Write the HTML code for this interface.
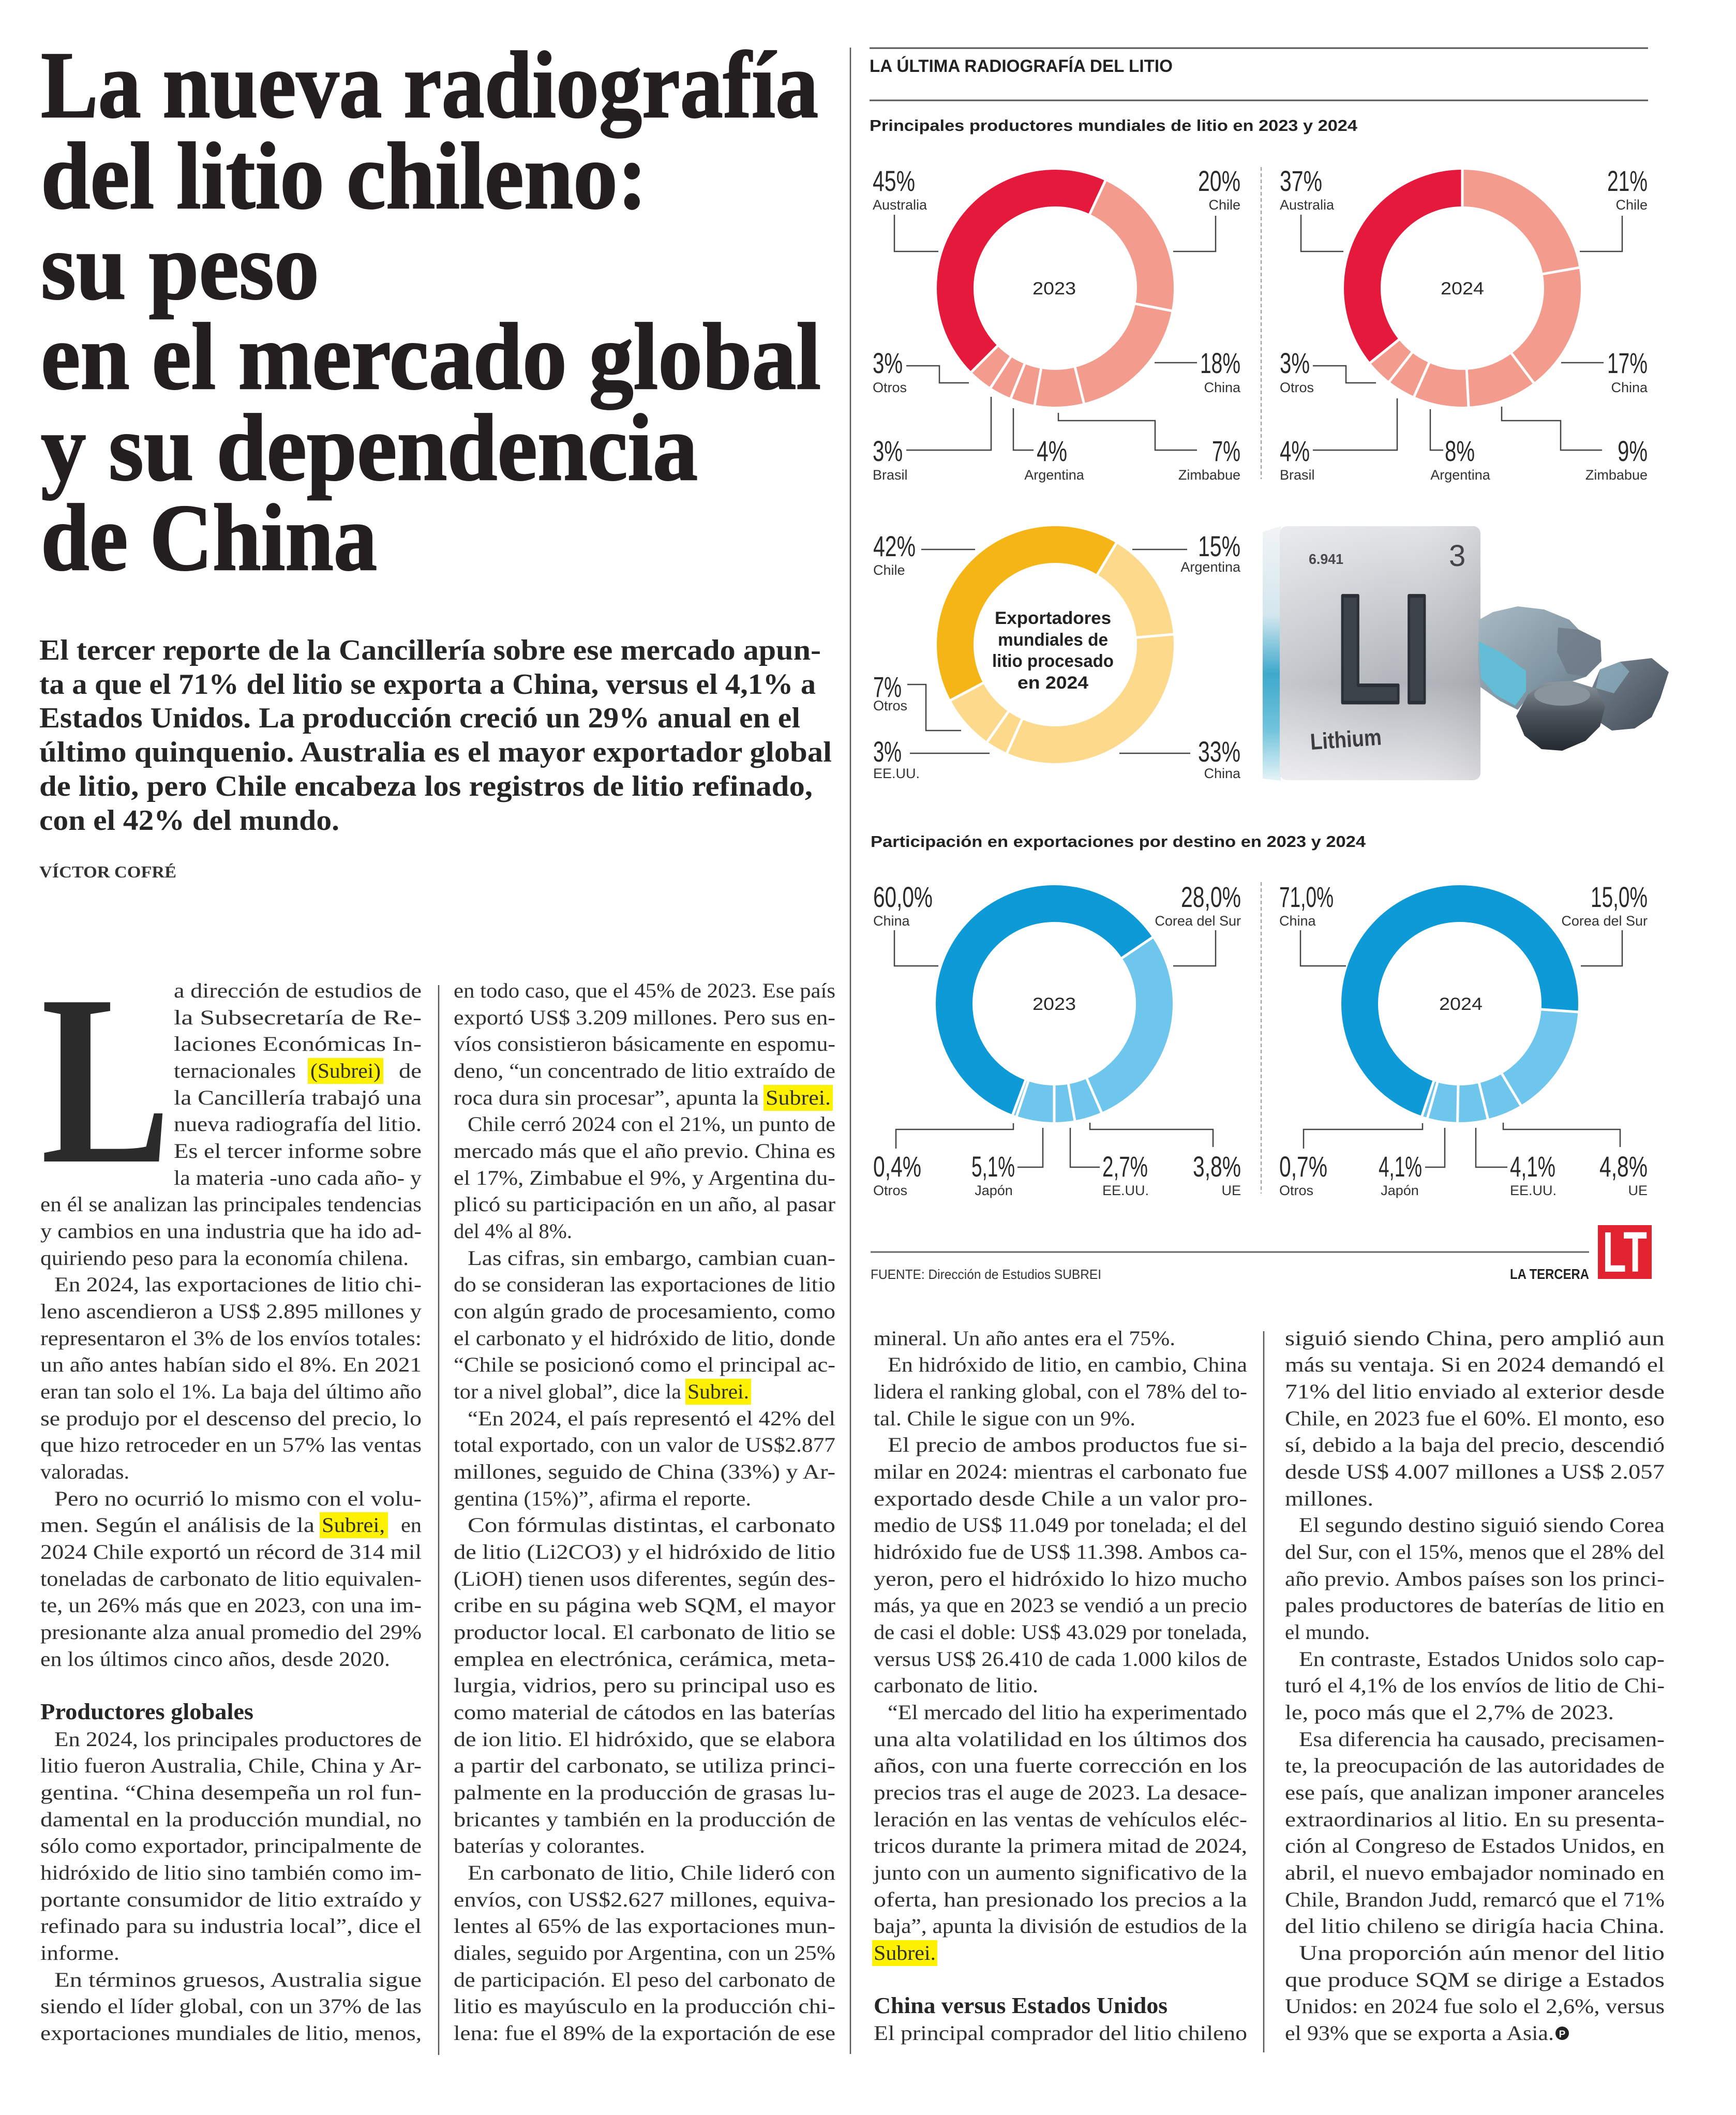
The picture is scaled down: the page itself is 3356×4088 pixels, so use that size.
<!DOCTYPE html>
<html lang="es">
<head>
<meta charset="utf-8">
<title>La nueva radiografía del litio chileno</title>
<style>
html,body{margin:0;padding:0;background:#fff;}
body{width:3356px;height:4088px;overflow:hidden;}
svg{display:block;}
.hl{font-family:"Liberation Serif",serif;font-weight:bold;font-size:184px;fill:#231f20;stroke:#231f20;stroke-width:2.5;}
.dk{font-family:"Liberation Serif",serif;font-weight:bold;font-size:56px;fill:#262626;}
.by{font-family:"Liberation Serif",serif;font-weight:bold;font-size:32px;fill:#333;}
.b{font-family:"Liberation Serif",serif;font-size:40px;fill:#303030;}
.bh{font-family:"Liberation Serif",serif;font-weight:bold;font-size:44px;fill:#262626;}
.t1{font-family:"Liberation Sans",sans-serif;font-weight:bold;font-size:34px;fill:#222;}
.t2{font-family:"Liberation Sans",sans-serif;font-weight:bold;font-size:31px;fill:#222;}
.p{font-family:"Liberation Sans",sans-serif;font-size:56px;fill:#2a2a2a;}
.n{font-family:"Liberation Sans",sans-serif;font-size:27px;fill:#333;}
.yr{font-family:"Liberation Sans",sans-serif;font-size:34px;fill:#2a2a2a;}
.ct{font-family:"Liberation Sans",sans-serif;font-weight:bold;font-size:34px;fill:#222;}
.src{font-family:"Liberation Sans",sans-serif;font-size:26px;fill:#333;}
.lead{fill:none;stroke:#444;stroke-width:2.5;}
.sep{stroke:#fff;stroke-width:5;}
</style>
</head>
<body>
<svg xmlns="http://www.w3.org/2000/svg" width="3356" height="4088" viewBox="0 0 3356 4088">
<defs>
<linearGradient id="face" x1="0" y1="0" x2="0" y2="1">
<stop offset="0" stop-color="#e3e4e7"/>
<stop offset="0.35" stop-color="#c6c9ce"/>
<stop offset="0.62" stop-color="#b2b6bc"/>
<stop offset="1" stop-color="#e8e8eb"/>
</linearGradient>
<linearGradient id="faceH" x1="0" y1="0" x2="1" y2="0">
<stop offset="0" stop-color="#ffffff" stop-opacity="0.25"/>
<stop offset="0.55" stop-color="#ffffff" stop-opacity="0"/>
<stop offset="1" stop-color="#000000" stop-opacity="0.07"/>
</linearGradient>
<linearGradient id="side" x1="0" y1="0" x2="0" y2="1">
<stop offset="0" stop-color="#f2f4f5"/>
<stop offset="0.35" stop-color="#d3e7ee"/>
<stop offset="0.58" stop-color="#3ea9cc"/>
<stop offset="0.8" stop-color="#72c4dc"/>
<stop offset="1" stop-color="#e6f3f7"/>
</linearGradient>
<linearGradient id="rock1" x1="0" y1="0" x2="1" y2="1">
<stop offset="0" stop-color="#a9bac4"/>
<stop offset="0.6" stop-color="#8196a3"/>
<stop offset="1" stop-color="#5d6c78"/>
</linearGradient>
<linearGradient id="rock2" x1="0" y1="0" x2="1" y2="1">
<stop offset="0" stop-color="#7d8a96"/>
<stop offset="1" stop-color="#3e4852"/>
</linearGradient>
<linearGradient id="rock3" x1="0" y1="0" x2="0" y2="1">
<stop offset="0" stop-color="#8e98a1"/>
<stop offset="0.45" stop-color="#4d555e"/>
<stop offset="1" stop-color="#24292f"/>
</linearGradient>
</defs>

<rect x="0" y="0" width="3356" height="4088" fill="#fff"/>

<!-- ===== HEADLINE ===== -->
<text class="hl" x="79" y="226" textLength="1503" lengthAdjust="spacingAndGlyphs">La nueva radiografía</text>
<text class="hl" x="79" y="402" textLength="1172" lengthAdjust="spacingAndGlyphs">del litio chileno:</text>
<text class="hl" x="79" y="577" textLength="538" lengthAdjust="spacingAndGlyphs">su peso</text>
<text class="hl" x="79" y="751" textLength="1508" lengthAdjust="spacingAndGlyphs">en el mercado global</text>
<text class="hl" x="79" y="927" textLength="1270" lengthAdjust="spacingAndGlyphs">y su dependencia</text>
<text class="hl" x="79" y="1101" textLength="650" lengthAdjust="spacingAndGlyphs">de China</text>

<!-- ===== DECK ===== -->
<text class="dk" x="76" y="1275" textLength="1511" lengthAdjust="spacingAndGlyphs">El tercer reporte de la Cancillería sobre ese mercado apun-</text>
<text class="dk" x="76" y="1341" textLength="1501" lengthAdjust="spacingAndGlyphs">ta a que el 71% del litio se exporta a China, versus el 4,1% a</text>
<text class="dk" x="76" y="1406" textLength="1471" lengthAdjust="spacingAndGlyphs">Estados Unidos. La producción creció un 29% anual en el</text>
<text class="dk" x="76" y="1472" textLength="1532" lengthAdjust="spacingAndGlyphs">último quinquenio. Australia es el mayor exportador global</text>
<text class="dk" x="76" y="1538" textLength="1495" lengthAdjust="spacingAndGlyphs">de litio, pero Chile encabeza los registros de litio refinado,</text>
<text class="dk" x="76" y="1604" textLength="580" lengthAdjust="spacingAndGlyphs">con el 42% del mundo.</text>

<text class="by" x="76" y="1696" textLength="265" lengthAdjust="spacingAndGlyphs">VÍCTOR COFRÉ</text>

<!-- ===== RULES ===== -->
<line x1="1644" y1="92" x2="1644" y2="3970" stroke="#555" stroke-width="2.5"/>
<line x1="848" y1="1904" x2="848" y2="3972" stroke="#555" stroke-width="2.5"/>
<line x1="2443" y1="2573" x2="2443" y2="3967" stroke="#555" stroke-width="2.5"/>

<!-- ===== HIGHLIGHTS ===== -->
<rect x="595" y="2045" width="146" height="50" fill="#fff200"/>
<rect x="618" y="2923" width="132" height="50" fill="#fff200"/>
<rect x="1476" y="2097" width="134" height="50" fill="#fff200"/>
<rect x="1325" y="2665" width="127" height="50" fill="#fff200"/>
<rect x="1686" y="3750" width="126" height="50" fill="#fff200"/>

<!-- ===== DROP CAP ===== -->
<text x="79" y="2245" font-family="Liberation Serif, serif" font-weight="bold" font-size="470" fill="#2b2b2b" textLength="251" lengthAdjust="spacingAndGlyphs">L</text>

<!-- ===== COLUMN 1 ===== -->
<text class="b" x="336" y="1928" textLength="479" lengthAdjust="spacingAndGlyphs">a dirección de estudios de</text>
<text class="b" x="336" y="1980" textLength="479" lengthAdjust="spacingAndGlyphs">la Subsecretaría de Re-</text>
<text class="b" x="336" y="2031" textLength="479" lengthAdjust="spacingAndGlyphs">laciones Económicas In-</text>
<text class="b" x="336" y="2083" textLength="236" lengthAdjust="spacingAndGlyphs">ternacionales</text>
<text class="b" x="600" y="2083" textLength="136" lengthAdjust="spacingAndGlyphs">(Subrei)</text>
<text class="b" x="771" y="2083" textLength="44" lengthAdjust="spacingAndGlyphs">de</text>
<text class="b" x="336" y="2135" textLength="479" lengthAdjust="spacingAndGlyphs">la Cancillería trabajó una</text>
<text class="b" x="336" y="2186" textLength="479" lengthAdjust="spacingAndGlyphs">nueva radiografía del litio.</text>
<text class="b" x="336" y="2238" textLength="479" lengthAdjust="spacingAndGlyphs">Es el tercer informe sobre</text>
<text class="b" x="336" y="2290" textLength="479" lengthAdjust="spacingAndGlyphs">la materia -uno cada año- y</text>
<text class="b" x="78" y="2341" textLength="737" lengthAdjust="spacingAndGlyphs">en él se analizan las principales tendencias</text>
<text class="b" x="78" y="2393" textLength="737" lengthAdjust="spacingAndGlyphs">y cambios en una industria que ha ido ad-</text>
<text class="b" x="78" y="2445" textLength="712" lengthAdjust="spacingAndGlyphs">quiriendo peso para la economía chilena.</text>
<text class="b" x="105" y="2496" textLength="710" lengthAdjust="spacingAndGlyphs">En 2024, las exportaciones de litio chi-</text>
<text class="b" x="78" y="2548" textLength="737" lengthAdjust="spacingAndGlyphs">leno ascendieron a US$ 2.895 millones y</text>
<text class="b" x="78" y="2600" textLength="737" lengthAdjust="spacingAndGlyphs">representaron el 3% de los envíos totales:</text>
<text class="b" x="78" y="2651" textLength="737" lengthAdjust="spacingAndGlyphs">un año antes habían sido el 8%. En 2021</text>
<text class="b" x="78" y="2703" textLength="737" lengthAdjust="spacingAndGlyphs">eran tan solo el 1%. La baja del último año</text>
<text class="b" x="78" y="2755" textLength="737" lengthAdjust="spacingAndGlyphs">se produjo por el descenso del precio, lo</text>
<text class="b" x="78" y="2806" textLength="737" lengthAdjust="spacingAndGlyphs">que hizo retroceder en un 57% las ventas</text>
<text class="b" x="78" y="2858" textLength="172" lengthAdjust="spacingAndGlyphs">valoradas.</text>
<text class="b" x="105" y="2910" textLength="710" lengthAdjust="spacingAndGlyphs">Pero no ocurrió lo mismo con el volu-</text>
<text class="b" x="78" y="2961" textLength="530" lengthAdjust="spacingAndGlyphs">men. Según el análisis de la</text>
<text class="b" x="622" y="2961" textLength="122" lengthAdjust="spacingAndGlyphs">Subrei,</text>
<text class="b" x="775" y="2961" textLength="40" lengthAdjust="spacingAndGlyphs">en</text>
<text class="b" x="78" y="3013" textLength="737" lengthAdjust="spacingAndGlyphs">2024 Chile exportó un récord de 314 mil</text>
<text class="b" x="78" y="3065" textLength="737" lengthAdjust="spacingAndGlyphs">toneladas de carbonato de litio equivalen-</text>
<text class="b" x="78" y="3116" textLength="737" lengthAdjust="spacingAndGlyphs">te, un 26% más que en 2023, con una im-</text>
<text class="b" x="78" y="3168" textLength="737" lengthAdjust="spacingAndGlyphs">presionante alza anual promedio del 29%</text>
<text class="b" x="78" y="3220" textLength="676" lengthAdjust="spacingAndGlyphs">en los últimos cinco años, desde 2020.</text>
<text class="bh" x="78" y="3323" textLength="412" lengthAdjust="spacingAndGlyphs">Productores globales</text>
<text class="b" x="105" y="3375" textLength="710" lengthAdjust="spacingAndGlyphs">En 2024, los principales productores de</text>
<text class="b" x="78" y="3426" textLength="737" lengthAdjust="spacingAndGlyphs">litio fueron Australia, Chile, China y Ar-</text>
<text class="b" x="78" y="3478" textLength="737" lengthAdjust="spacingAndGlyphs">gentina. “China desempeña un rol fun-</text>
<text class="b" x="78" y="3530" textLength="737" lengthAdjust="spacingAndGlyphs">damental en la producción mundial, no</text>
<text class="b" x="78" y="3581" textLength="737" lengthAdjust="spacingAndGlyphs">sólo como exportador, principalmente de</text>
<text class="b" x="78" y="3633" textLength="737" lengthAdjust="spacingAndGlyphs">hidróxido de litio sino también como im-</text>
<text class="b" x="78" y="3685" textLength="737" lengthAdjust="spacingAndGlyphs">portante consumidor de litio extraído y</text>
<text class="b" x="78" y="3736" textLength="737" lengthAdjust="spacingAndGlyphs">refinado para su industria local”, dice el</text>
<text class="b" x="78" y="3788" textLength="153" lengthAdjust="spacingAndGlyphs">informe.</text>
<text class="b" x="105" y="3840" textLength="710" lengthAdjust="spacingAndGlyphs">En términos gruesos, Australia sigue</text>
<text class="b" x="78" y="3891" textLength="737" lengthAdjust="spacingAndGlyphs">siendo el líder global, con un 37% de las</text>
<text class="b" x="78" y="3943" textLength="737" lengthAdjust="spacingAndGlyphs">exportaciones mundiales de litio, menos,</text>

<!-- ===== COLUMN 2 ===== -->
<text class="b" x="877" y="1928" textLength="738" lengthAdjust="spacingAndGlyphs">en todo caso, que el 45% de 2023. Ese país</text>
<text class="b" x="877" y="1980" textLength="738" lengthAdjust="spacingAndGlyphs">exportó US$ 3.209 millones. Pero sus en-</text>
<text class="b" x="877" y="2031" textLength="738" lengthAdjust="spacingAndGlyphs">víos consistieron básicamente en espomu-</text>
<text class="b" x="877" y="2083" textLength="738" lengthAdjust="spacingAndGlyphs">deno, “un concentrado de litio extraído de</text>
<text class="b" x="877" y="2135" textLength="590" lengthAdjust="spacingAndGlyphs">roca dura sin procesar”, apunta la</text>
<text class="b" x="1480" y="2135" textLength="126" lengthAdjust="spacingAndGlyphs">Subrei.</text>
<text class="b" x="904" y="2186" textLength="711" lengthAdjust="spacingAndGlyphs">Chile cerró 2024 con el 21%, un punto de</text>
<text class="b" x="877" y="2238" textLength="738" lengthAdjust="spacingAndGlyphs">mercado más que el año previo. China es</text>
<text class="b" x="877" y="2290" textLength="738" lengthAdjust="spacingAndGlyphs">el 17%, Zimbabue el 9%, y Argentina du-</text>
<text class="b" x="877" y="2341" textLength="738" lengthAdjust="spacingAndGlyphs">plicó su participación en un año, al pasar</text>
<text class="b" x="877" y="2393" textLength="229" lengthAdjust="spacingAndGlyphs">del 4% al 8%.</text>
<text class="b" x="904" y="2445" textLength="711" lengthAdjust="spacingAndGlyphs">Las cifras, sin embargo, cambian cuan-</text>
<text class="b" x="877" y="2496" textLength="738" lengthAdjust="spacingAndGlyphs">do se consideran las exportaciones de litio</text>
<text class="b" x="877" y="2548" textLength="738" lengthAdjust="spacingAndGlyphs">con algún grado de procesamiento, como</text>
<text class="b" x="877" y="2600" textLength="738" lengthAdjust="spacingAndGlyphs">el carbonato y el hidróxido de litio, donde</text>
<text class="b" x="877" y="2651" textLength="738" lengthAdjust="spacingAndGlyphs">“Chile se posicionó como el principal ac-</text>
<text class="b" x="877" y="2703" textLength="440" lengthAdjust="spacingAndGlyphs">tor a nivel global”, dice la</text>
<text class="b" x="1329" y="2703" textLength="119" lengthAdjust="spacingAndGlyphs">Subrei.</text>
<text class="b" x="904" y="2755" textLength="711" lengthAdjust="spacingAndGlyphs">“En 2024, el país representó el 42% del</text>
<text class="b" x="877" y="2806" textLength="738" lengthAdjust="spacingAndGlyphs">total exportado, con un valor de US$2.877</text>
<text class="b" x="877" y="2858" textLength="738" lengthAdjust="spacingAndGlyphs">millones, seguido de China (33%) y Ar-</text>
<text class="b" x="877" y="2910" textLength="575" lengthAdjust="spacingAndGlyphs">gentina (15%)”, afirma el reporte.</text>
<text class="b" x="904" y="2961" textLength="711" lengthAdjust="spacingAndGlyphs">Con fórmulas distintas, el carbonato</text>
<text class="b" x="877" y="3013" textLength="738" lengthAdjust="spacingAndGlyphs">de litio (Li2CO3) y el hidróxido de litio</text>
<text class="b" x="877" y="3065" textLength="738" lengthAdjust="spacingAndGlyphs">(LiOH) tienen usos diferentes, según des-</text>
<text class="b" x="877" y="3116" textLength="738" lengthAdjust="spacingAndGlyphs">cribe en su página web SQM, el mayor</text>
<text class="b" x="877" y="3168" textLength="738" lengthAdjust="spacingAndGlyphs">productor local. El carbonato de litio se</text>
<text class="b" x="877" y="3220" textLength="738" lengthAdjust="spacingAndGlyphs">emplea en electrónica, cerámica, meta-</text>
<text class="b" x="877" y="3271" textLength="738" lengthAdjust="spacingAndGlyphs">lurgia, vidrios, pero su principal uso es</text>
<text class="b" x="877" y="3323" textLength="738" lengthAdjust="spacingAndGlyphs">como material de cátodos en las baterías</text>
<text class="b" x="877" y="3375" textLength="738" lengthAdjust="spacingAndGlyphs">de ion litio. El hidróxido, que se elabora</text>
<text class="b" x="877" y="3426" textLength="738" lengthAdjust="spacingAndGlyphs">a partir del carbonato, se utiliza princi-</text>
<text class="b" x="877" y="3478" textLength="738" lengthAdjust="spacingAndGlyphs">palmente en la producción de grasas lu-</text>
<text class="b" x="877" y="3530" textLength="738" lengthAdjust="spacingAndGlyphs">bricantes y también en la producción de</text>
<text class="b" x="877" y="3581" textLength="370" lengthAdjust="spacingAndGlyphs">baterías y colorantes.</text>
<text class="b" x="904" y="3633" textLength="711" lengthAdjust="spacingAndGlyphs">En carbonato de litio, Chile lideró con</text>
<text class="b" x="877" y="3685" textLength="738" lengthAdjust="spacingAndGlyphs">envíos, con US$2.627 millones, equiva-</text>
<text class="b" x="877" y="3736" textLength="738" lengthAdjust="spacingAndGlyphs">lentes al 65% de las exportaciones mun-</text>
<text class="b" x="877" y="3788" textLength="738" lengthAdjust="spacingAndGlyphs">diales, seguido por Argentina, con un 25%</text>
<text class="b" x="877" y="3840" textLength="738" lengthAdjust="spacingAndGlyphs">de participación. El peso del carbonato de</text>
<text class="b" x="877" y="3891" textLength="738" lengthAdjust="spacingAndGlyphs">litio es mayúsculo en la producción chi-</text>
<text class="b" x="877" y="3943" textLength="738" lengthAdjust="spacingAndGlyphs">lena: fue el 89% de la exportación de ese</text>

<!-- ===== COLUMN 3 ===== -->
<text class="b" x="1689" y="2600" textLength="583" lengthAdjust="spacingAndGlyphs">mineral. Un año antes era el 75%.</text>
<text class="b" x="1716" y="2651" textLength="695" lengthAdjust="spacingAndGlyphs">En hidróxido de litio, en cambio, China</text>
<text class="b" x="1689" y="2703" textLength="722" lengthAdjust="spacingAndGlyphs">lidera el ranking global, con el 78% del to-</text>
<text class="b" x="1689" y="2755" textLength="506" lengthAdjust="spacingAndGlyphs">tal. Chile le sigue con un 9%.</text>
<text class="b" x="1716" y="2806" textLength="695" lengthAdjust="spacingAndGlyphs">El precio de ambos productos fue si-</text>
<text class="b" x="1689" y="2858" textLength="722" lengthAdjust="spacingAndGlyphs">milar en 2024: mientras el carbonato fue</text>
<text class="b" x="1689" y="2910" textLength="722" lengthAdjust="spacingAndGlyphs">exportado desde Chile a un valor pro-</text>
<text class="b" x="1689" y="2961" textLength="722" lengthAdjust="spacingAndGlyphs">medio de US$ 11.049 por tonelada; el del</text>
<text class="b" x="1689" y="3013" textLength="722" lengthAdjust="spacingAndGlyphs">hidróxido fue de US$ 11.398. Ambos ca-</text>
<text class="b" x="1689" y="3065" textLength="722" lengthAdjust="spacingAndGlyphs">yeron, pero el hidróxido lo hizo mucho</text>
<text class="b" x="1689" y="3116" textLength="722" lengthAdjust="spacingAndGlyphs">más, ya que en 2023 se vendió a un precio</text>
<text class="b" x="1689" y="3168" textLength="722" lengthAdjust="spacingAndGlyphs">de casi el doble: US$ 43.029 por tonelada,</text>
<text class="b" x="1689" y="3220" textLength="722" lengthAdjust="spacingAndGlyphs">versus US$ 26.410 de cada 1.000 kilos de</text>
<text class="b" x="1689" y="3271" textLength="318" lengthAdjust="spacingAndGlyphs">carbonato de litio.</text>
<text class="b" x="1716" y="3323" textLength="695" lengthAdjust="spacingAndGlyphs">“El mercado del litio ha experimentado</text>
<text class="b" x="1689" y="3375" textLength="722" lengthAdjust="spacingAndGlyphs">una alta volatilidad en los últimos dos</text>
<text class="b" x="1689" y="3426" textLength="722" lengthAdjust="spacingAndGlyphs">años, con una fuerte corrección en los</text>
<text class="b" x="1689" y="3478" textLength="722" lengthAdjust="spacingAndGlyphs">precios tras el auge de 2023. La desace-</text>
<text class="b" x="1689" y="3530" textLength="722" lengthAdjust="spacingAndGlyphs">leración en las ventas de vehículos eléc-</text>
<text class="b" x="1689" y="3581" textLength="722" lengthAdjust="spacingAndGlyphs">tricos durante la primera mitad de 2024,</text>
<text class="b" x="1689" y="3633" textLength="722" lengthAdjust="spacingAndGlyphs">junto con un aumento significativo de la</text>
<text class="b" x="1689" y="3685" textLength="722" lengthAdjust="spacingAndGlyphs">oferta, han presionado los precios a la</text>
<text class="b" x="1689" y="3736" textLength="722" lengthAdjust="spacingAndGlyphs">baja”, apunta la división de estudios de la</text>
<text class="b" x="1689" y="3788" textLength="120" lengthAdjust="spacingAndGlyphs">Subrei.</text>
<text class="bh" x="1689" y="3891" textLength="568" lengthAdjust="spacingAndGlyphs">China versus Estados Unidos</text>
<text class="b" x="1689" y="3943" textLength="722" lengthAdjust="spacingAndGlyphs">El principal comprador del litio chileno</text>

<!-- ===== COLUMN 4 ===== -->
<text class="b" x="2484" y="2600" textLength="734" lengthAdjust="spacingAndGlyphs">siguió siendo China, pero amplió aun</text>
<text class="b" x="2484" y="2651" textLength="734" lengthAdjust="spacingAndGlyphs">más su ventaja. Si en 2024 demandó el</text>
<text class="b" x="2484" y="2703" textLength="734" lengthAdjust="spacingAndGlyphs">71% del litio enviado al exterior desde</text>
<text class="b" x="2484" y="2755" textLength="734" lengthAdjust="spacingAndGlyphs">Chile, en 2023 fue el 60%. El monto, eso</text>
<text class="b" x="2484" y="2806" textLength="734" lengthAdjust="spacingAndGlyphs">sí, debido a la baja del precio, descendió</text>
<text class="b" x="2484" y="2858" textLength="734" lengthAdjust="spacingAndGlyphs">desde US$ 4.007 millones a US$ 2.057</text>
<text class="b" x="2484" y="2910" textLength="171" lengthAdjust="spacingAndGlyphs">millones.</text>
<text class="b" x="2511" y="2961" textLength="707" lengthAdjust="spacingAndGlyphs">El segundo destino siguió siendo Corea</text>
<text class="b" x="2484" y="3013" textLength="734" lengthAdjust="spacingAndGlyphs">del Sur, con el 15%, menos que el 28% del</text>
<text class="b" x="2484" y="3065" textLength="734" lengthAdjust="spacingAndGlyphs">año previo. Ambos países son los princi-</text>
<text class="b" x="2484" y="3116" textLength="734" lengthAdjust="spacingAndGlyphs">pales productores de baterías de litio en</text>
<text class="b" x="2484" y="3168" textLength="164" lengthAdjust="spacingAndGlyphs">el mundo.</text>
<text class="b" x="2511" y="3220" textLength="707" lengthAdjust="spacingAndGlyphs">En contraste, Estados Unidos solo cap-</text>
<text class="b" x="2484" y="3271" textLength="734" lengthAdjust="spacingAndGlyphs">turó el 4,1% de los envíos de litio de Chi-</text>
<text class="b" x="2484" y="3323" textLength="636" lengthAdjust="spacingAndGlyphs">le, poco más que el 2,7% de 2023.</text>
<text class="b" x="2511" y="3375" textLength="707" lengthAdjust="spacingAndGlyphs">Esa diferencia ha causado, precisamen-</text>
<text class="b" x="2484" y="3426" textLength="734" lengthAdjust="spacingAndGlyphs">te, la preocupación de las autoridades de</text>
<text class="b" x="2484" y="3478" textLength="734" lengthAdjust="spacingAndGlyphs">ese país, que analizan imponer aranceles</text>
<text class="b" x="2484" y="3530" textLength="734" lengthAdjust="spacingAndGlyphs">extraordinarios al litio. En su presenta-</text>
<text class="b" x="2484" y="3581" textLength="734" lengthAdjust="spacingAndGlyphs">ción al Congreso de Estados Unidos, en</text>
<text class="b" x="2484" y="3633" textLength="734" lengthAdjust="spacingAndGlyphs">abril, el nuevo embajador nominado en</text>
<text class="b" x="2484" y="3685" textLength="734" lengthAdjust="spacingAndGlyphs">Chile, Brandon Judd, remarcó que el 71%</text>
<text class="b" x="2484" y="3736" textLength="734" lengthAdjust="spacingAndGlyphs">del litio chileno se dirigía hacia China.</text>
<text class="b" x="2511" y="3788" textLength="707" lengthAdjust="spacingAndGlyphs">Una proporción aún menor del litio</text>
<text class="b" x="2484" y="3840" textLength="734" lengthAdjust="spacingAndGlyphs">que produce SQM se dirige a Estados</text>
<text class="b" x="2484" y="3891" textLength="734" lengthAdjust="spacingAndGlyphs">Unidos: en 2024 fue solo el 2,6%, versus</text>
<text class="b" x="2484" y="3943" textLength="520" lengthAdjust="spacingAndGlyphs">el 93% que se exporta a Asia.</text>
<circle cx="3020" cy="3930" r="13" fill="#222"/>
<text x="3020" y="3938" text-anchor="middle" font-family="Liberation Sans, sans-serif" font-weight="bold" font-size="19" fill="#fff">P</text>

<!-- ===== CHART HEADER ===== -->
<line x1="1681" y1="93" x2="3186" y2="93" stroke="#555" stroke-width="3"/>
<text class="t1" x="1681" y="139" textLength="586" lengthAdjust="spacingAndGlyphs">LA ÚLTIMA RADIOGRAFÍA DEL LITIO</text>
<line x1="1681" y1="194" x2="3186" y2="194" stroke="#555" stroke-width="3"/>
<text class="t2" x="1681" y="253" textLength="943" lengthAdjust="spacingAndGlyphs">Principales productores mundiales de litio en 2023 y 2024</text>

<!-- dashed separator top -->
<line x1="2438" y1="323" x2="2438" y2="926" stroke="#999" stroke-width="2" stroke-dasharray="7 5"/>

<!-- ===== DONUT TOP 2023 (cx 2040, cy 557) ===== -->
<g>
<circle cx="2040" cy="557" r="193.5" fill="none" stroke="#f39b8d" stroke-width="71" stroke-dasharray="675.4 540.4" stroke-dashoffset="-84.4" transform="rotate(-90 2040 557)"/>
<circle cx="2040" cy="557" r="193.5" fill="none" stroke="#e5193c" stroke-width="71" stroke-dasharray="540.4 675.4" stroke-dashoffset="-759.9" transform="rotate(-90 2040 557)"/>
<line class="sep" x1="2040" y1="404" x2="2040" y2="324" transform="rotate(25 2040 557)"/>
<line class="sep" x1="2040" y1="404" x2="2040" y2="324" transform="rotate(101 2040 557)"/>
<line class="sep" x1="2040" y1="404" x2="2040" y2="324" transform="rotate(166 2040 557)"/>
<line class="sep" x1="2040" y1="404" x2="2040" y2="324" transform="rotate(190 2040 557)"/>
<line class="sep" x1="2040" y1="404" x2="2040" y2="324" transform="rotate(202 2040 557)"/>
<line class="sep" x1="2040" y1="404" x2="2040" y2="324" transform="rotate(213 2040 557)"/>
<line class="sep" x1="2040" y1="404" x2="2040" y2="324" transform="rotate(225 2040 557)"/>
<text class="yr" x="1996" y="569" textLength="84" lengthAdjust="spacingAndGlyphs">2023</text>
</g>
<text class="p" x="1687" y="369" textLength="82" lengthAdjust="spacingAndGlyphs">45%</text>
<text class="n" x="1687" y="405">Australia</text>
<text class="p" x="2316" y="369" textLength="82" lengthAdjust="spacingAndGlyphs">20%</text>
<text class="n" x="2398" y="405" text-anchor="end">Chile</text>
<text class="p" x="1687" y="721" textLength="58" lengthAdjust="spacingAndGlyphs">3%</text>
<text class="n" x="1687" y="758">Otros</text>
<text class="p" x="2320" y="721" textLength="78" lengthAdjust="spacingAndGlyphs">18%</text>
<text class="n" x="2398" y="758" text-anchor="end">China</text>
<text class="p" x="1687" y="891" textLength="58" lengthAdjust="spacingAndGlyphs">3%</text>
<text class="n" x="1687" y="927">Brasil</text>
<text class="p" x="2004" y="891" textLength="59" lengthAdjust="spacingAndGlyphs">4%</text>
<text class="n" x="2038" y="927" text-anchor="middle">Argentina</text>
<text class="p" x="2343" y="891" textLength="55" lengthAdjust="spacingAndGlyphs">7%</text>
<text class="n" x="2398" y="927" text-anchor="end">Zimbabue</text>
<path class="lead" d="M1729,415 V486 H1814"/>
<path class="lead" d="M2350,417 V486 H2268"/>
<path class="lead" d="M1752,707 H1816 V740 H1873"/>
<path class="lead" d="M2232,701 H2314"/>
<path class="lead" d="M1752,870 H1916 V767"/>
<path class="lead" d="M1959,789 V870 H1998"/>
<path class="lead" d="M2046,798 V813 H2233 V870 H2314"/>

<!-- ===== DONUT TOP 2024 (cx 2827, cy 557) ===== -->
<g>
<circle cx="2827" cy="557" r="193.5" fill="none" stroke="#f39b8d" stroke-width="71" stroke-dasharray="780.1 435.7" stroke-dashoffset="0" transform="rotate(-90 2827 557)"/>
<circle cx="2827" cy="557" r="193.5" fill="none" stroke="#e5193c" stroke-width="71" stroke-dasharray="435.7 780.1" stroke-dashoffset="-780.1" transform="rotate(-90 2827 557)"/>
<line class="sep" x1="2827" y1="404" x2="2827" y2="324" transform="rotate(0 2827 557)"/>
<line class="sep" x1="2827" y1="404" x2="2827" y2="324" transform="rotate(80 2827 557)"/>
<line class="sep" x1="2827" y1="404" x2="2827" y2="324" transform="rotate(143 2827 557)"/>
<line class="sep" x1="2827" y1="404" x2="2827" y2="324" transform="rotate(177 2827 557)"/>
<line class="sep" x1="2827" y1="404" x2="2827" y2="324" transform="rotate(204 2827 557)"/>
<line class="sep" x1="2827" y1="404" x2="2827" y2="324" transform="rotate(218 2827 557)"/>
<line class="sep" x1="2827" y1="404" x2="2827" y2="324" transform="rotate(231 2827 557)"/>
<text class="yr" x="2785" y="569" textLength="84" lengthAdjust="spacingAndGlyphs">2024</text>
</g>
<text class="p" x="2474" y="369" textLength="82" lengthAdjust="spacingAndGlyphs">37%</text>
<text class="n" x="2474" y="405">Australia</text>
<text class="p" x="3107" y="369" textLength="78" lengthAdjust="spacingAndGlyphs">21%</text>
<text class="n" x="3185" y="405" text-anchor="end">Chile</text>
<text class="p" x="2474" y="721" textLength="58" lengthAdjust="spacingAndGlyphs">3%</text>
<text class="n" x="2474" y="758">Otros</text>
<text class="p" x="3107" y="721" textLength="78" lengthAdjust="spacingAndGlyphs">17%</text>
<text class="n" x="3185" y="758" text-anchor="end">China</text>
<text class="p" x="2474" y="891" textLength="58" lengthAdjust="spacingAndGlyphs">4%</text>
<text class="n" x="2474" y="927">Brasil</text>
<text class="p" x="2793" y="891" textLength="58" lengthAdjust="spacingAndGlyphs">8%</text>
<text class="n" x="2823" y="927" text-anchor="middle">Argentina</text>
<text class="p" x="3127" y="891" textLength="58" lengthAdjust="spacingAndGlyphs">9%</text>
<text class="n" x="3185" y="927" text-anchor="end">Zimbabue</text>
<path class="lead" d="M2515,415 V486 H2597"/>
<path class="lead" d="M3136,417 V486 H3054"/>
<path class="lead" d="M2538,707 H2602 V740 H2660"/>
<path class="lead" d="M3018,701 H3100"/>
<path class="lead" d="M2538,870 H2701 V770"/>
<path class="lead" d="M2765,791 V870 H2790"/>
<path class="lead" d="M2903,786 V813 H3017 V870 H3097"/>

<!-- ===== EXPORTERS DONUT (cx 2040, cy 1246) ===== -->
<g>
<circle cx="2040" cy="1246" r="193.5" fill="none" stroke="#fdd98c" stroke-width="71" stroke-dasharray="712.6 503.2" stroke-dashoffset="-104.7" transform="rotate(-90 2040 1246)"/>
<circle cx="2040" cy="1246" r="193.5" fill="none" stroke="#f6b516" stroke-width="71" stroke-dasharray="503.2 712.6" stroke-dashoffset="-817.3" transform="rotate(-90 2040 1246)"/>
<line class="sep" x1="2040" y1="1093" x2="2040" y2="1013" transform="rotate(31 2040 1246)"/>
<line class="sep" x1="2040" y1="1093" x2="2040" y2="1013" transform="rotate(85 2040 1246)"/>
<line class="sep" x1="2040" y1="1093" x2="2040" y2="1013" transform="rotate(204 2040 1246)"/>
<line class="sep" x1="2040" y1="1093" x2="2040" y2="1013" transform="rotate(215 2040 1246)"/>
<line class="sep" x1="2040" y1="1093" x2="2040" y2="1013" transform="rotate(242 2040 1246)"/>
<text class="ct" x="1923" y="1206" textLength="225" lengthAdjust="spacingAndGlyphs">Exportadores</text>
<text class="ct" x="1929" y="1248" textLength="213" lengthAdjust="spacingAndGlyphs">mundiales de</text>
<text class="ct" x="1918" y="1289" textLength="235" lengthAdjust="spacingAndGlyphs">litio procesado</text>
<text class="ct" x="1967" y="1331" textLength="137" lengthAdjust="spacingAndGlyphs">en 2024</text>
</g>
<text class="p" x="1688" y="1075" textLength="82" lengthAdjust="spacingAndGlyphs">42%</text>
<text class="n" x="1688" y="1111">Chile</text>
<text class="p" x="2316" y="1075" textLength="82" lengthAdjust="spacingAndGlyphs">15%</text>
<text class="n" x="2398" y="1105" text-anchor="end">Argentina</text>
<text class="p" x="1688" y="1347" textLength="55" lengthAdjust="spacingAndGlyphs">7%</text>
<text class="n" x="1688" y="1373">Otros</text>
<text class="p" x="1688" y="1472" textLength="55" lengthAdjust="spacingAndGlyphs">3%</text>
<text class="n" x="1688" y="1504">EE.UU.</text>
<text class="p" x="2316" y="1472" textLength="82" lengthAdjust="spacingAndGlyphs">33%</text>
<text class="n" x="2398" y="1504" text-anchor="end">China</text>
<path class="lead" d="M1781,1062 H1885"/>
<path class="lead" d="M2189,1062 H2295"/>
<path class="lead" d="M1754,1323 H1790 V1412 H1858"/>
<path class="lead" d="M1759,1456 H1913"/>
<path class="lead" d="M2164,1456 H2301"/>

<!-- ===== LITHIUM CARD ===== -->
<polygon points="2441,1028 2476,1017 2476,1509 2441,1505" fill="url(#side)"/>
<rect x="2474" y="1017" width="388" height="491" rx="14" ry="14" fill="url(#face)"/>
<rect x="2474" y="1017" width="388" height="491" rx="14" ry="14" fill="url(#faceH)"/>
<text x="2530" y="1090" font-family="Liberation Sans, sans-serif" font-weight="bold" font-size="28" fill="#4a4a4a" textLength="67" lengthAdjust="spacingAndGlyphs">6.941</text>
<text x="2801" y="1094" font-family="Liberation Sans, sans-serif" font-size="58" fill="#444">3</text>
<text x="2581" y="1358" font-family="Liberation Sans, sans-serif" font-weight="bold" font-size="300" fill="#3c4349" stroke="#2a3036" stroke-width="7" stroke-linejoin="round" textLength="187" lengthAdjust="spacingAndGlyphs">LI</text>
<text x="2534" y="1449" font-family="Liberation Sans, sans-serif" font-weight="bold" font-size="44" fill="#3d3d3d" textLength="138" lengthAdjust="spacingAndGlyphs" transform="rotate(-4 2534 1449)">Lithium</text>

<!-- rocks -->
<polygon points="2859,1198 2886,1183 2934,1172 2985,1178 3034,1198 3052,1217 3094,1238 3096,1278 3066,1308 3011,1326 2952,1350 2934,1372 2900,1355 2862,1328 2857,1276" fill="url(#rock1)"/>
<polygon points="2859,1240 2902,1261 2950,1297 2950,1336 2929,1364 2890,1342 2863,1311" fill="#63bdd6"/>
<polygon points="3012,1213 3052,1217 3094,1238 3096,1278 3066,1308 3030,1302 3010,1260" fill="#6e7b87" opacity="0.8"/>
<polygon points="3093,1294 3132,1279 3193,1272 3226,1299 3210,1349 3193,1386 3160,1408 3116,1412 3088,1393 3070,1347" fill="url(#rock2)"/>
<polygon points="3093,1294 3132,1279 3150,1298 3120,1340 3085,1330" fill="#8fb4c4" opacity="0.7"/>
<polygon points="2954,1342 2988,1319 3038,1316 3086,1331 3103,1366 3093,1404 3065,1432 3020,1451 2980,1448 2947,1422 2931,1384" fill="url(#rock3)"/>
<ellipse cx="3020" cy="1343" rx="54" ry="21" fill="#8a949d"/>

<!-- ===== DESTINATION CHART ===== -->
<text class="t2" x="1683" y="1637" textLength="957" lengthAdjust="spacingAndGlyphs">Participación en exportaciones por destino en 2023 y 2024</text>
<line x1="2438" y1="1705" x2="2438" y2="2307" stroke="#999" stroke-width="2" stroke-dasharray="7 5"/>

<!-- bottom 2023 (cx 2038, cy 1940) -->
<g>
<circle cx="2038" cy="1940" r="193.5" fill="none" stroke="#6fc6ec" stroke-width="71" stroke-dasharray="486.3 729.5" stroke-dashoffset="-189.1" transform="rotate(-90 2038 1940)"/>
<circle cx="2038" cy="1940" r="193.5" fill="none" stroke="#0e9ad6" stroke-width="71" stroke-dasharray="729.5 486.3" stroke-dashoffset="-675.4" transform="rotate(-90 2038 1940)"/>
<line class="sep" x1="2038" y1="1787" x2="2038" y2="1707" transform="rotate(56 2038 1940)"/>
<line class="sep" x1="2038" y1="1787" x2="2038" y2="1707" transform="rotate(156.5 2038 1940)"/>
<line class="sep" x1="2038" y1="1787" x2="2038" y2="1707" transform="rotate(170 2038 1940)"/>
<line class="sep" x1="2038" y1="1787" x2="2038" y2="1707" transform="rotate(180 2038 1940)"/>
<line class="sep" x1="2038" y1="1787" x2="2038" y2="1707" transform="rotate(198.5 2038 1940)"/>
<line class="sep" x1="2038" y1="1787" x2="2038" y2="1707" transform="rotate(200.5 2038 1940)"/>
<text class="yr" x="1996" y="1952" textLength="84" lengthAdjust="spacingAndGlyphs">2023</text>
</g>
<text class="p" x="1688" y="1753" textLength="115" lengthAdjust="spacingAndGlyphs">60,0%</text>
<text class="n" x="1688" y="1789">China</text>
<text class="p" x="2283" y="1753" textLength="116" lengthAdjust="spacingAndGlyphs">28,0%</text>
<text class="n" x="2399" y="1789" text-anchor="end">Corea del Sur</text>
<text class="p" x="1688" y="2274" textLength="93" lengthAdjust="spacingAndGlyphs">0,4%</text>
<text class="n" x="1688" y="2310">Otros</text>
<text class="p" x="1878" y="2274" textLength="84" lengthAdjust="spacingAndGlyphs">5,1%</text>
<text class="n" x="1921" y="2310" text-anchor="middle">Japón</text>
<text class="p" x="2131" y="2274" textLength="88" lengthAdjust="spacingAndGlyphs">2,7%</text>
<text class="n" x="2131" y="2310">EE.UU.</text>
<text class="p" x="2306" y="2274" textLength="93" lengthAdjust="spacingAndGlyphs">3,8%</text>
<text class="n" x="2399" y="2310" text-anchor="end">UE</text>
<path class="lead" d="M1729,1798 V1867 H1814"/>
<path class="lead" d="M2350,1798 V1867 H2268"/>
<path class="lead" d="M1732,2220 V2183 H1959 V2171"/>
<path class="lead" d="M1967,2256 H2016 V2180"/>
<path class="lead" d="M2069,2180 V2256 H2126"/>
<path class="lead" d="M2107,2170 V2183 H2345 V2217"/>

<!-- bottom 2024 (cx 2822, cy 1940) -->
<g>
<circle cx="2822" cy="1940" r="193.5" fill="none" stroke="#6fc6ec" stroke-width="71" stroke-dasharray="352.2 863.6" stroke-dashoffset="-317.5" transform="rotate(-90 2822 1940)"/>
<circle cx="2822" cy="1940" r="193.5" fill="none" stroke="#0e9ad6" stroke-width="71" stroke-dasharray="863.6 352.2" stroke-dashoffset="-669.7" transform="rotate(-90 2822 1940)"/>
<line class="sep" x1="2822" y1="1787" x2="2822" y2="1707" transform="rotate(94 2822 1940)"/>
<line class="sep" x1="2822" y1="1787" x2="2822" y2="1707" transform="rotate(149 2822 1940)"/>
<line class="sep" x1="2822" y1="1787" x2="2822" y2="1707" transform="rotate(166.3 2822 1940)"/>
<line class="sep" x1="2822" y1="1787" x2="2822" y2="1707" transform="rotate(181.1 2822 1940)"/>
<line class="sep" x1="2822" y1="1787" x2="2822" y2="1707" transform="rotate(195.8 2822 1940)"/>
<line class="sep" x1="2822" y1="1787" x2="2822" y2="1707" transform="rotate(198.6 2822 1940)"/>
<text class="yr" x="2782" y="1952" textLength="84" lengthAdjust="spacingAndGlyphs">2024</text>
</g>
<text class="p" x="2473" y="1753" textLength="105" lengthAdjust="spacingAndGlyphs">71,0%</text>
<text class="n" x="2473" y="1789">China</text>
<text class="p" x="3075" y="1753" textLength="110" lengthAdjust="spacingAndGlyphs">15,0%</text>
<text class="n" x="3185" y="1789" text-anchor="end">Corea del Sur</text>
<text class="p" x="2473" y="2274" textLength="93" lengthAdjust="spacingAndGlyphs">0,7%</text>
<text class="n" x="2473" y="2310">Otros</text>
<text class="p" x="2665" y="2274" textLength="84" lengthAdjust="spacingAndGlyphs">4,1%</text>
<text class="n" x="2706" y="2310" text-anchor="middle">Japón</text>
<text class="p" x="2919" y="2274" textLength="88" lengthAdjust="spacingAndGlyphs">4,1%</text>
<text class="n" x="2919" y="2310">EE.UU.</text>
<text class="p" x="3092" y="2274" textLength="93" lengthAdjust="spacingAndGlyphs">4,8%</text>
<text class="n" x="3185" y="2310" text-anchor="end">UE</text>
<path class="lead" d="M2514,1798 V1867 H2602"/>
<path class="lead" d="M3136,1798 V1867 H3056"/>
<path class="lead" d="M2520,2220 V2183 H2750 V2171"/>
<path class="lead" d="M2755,2256 H2793 V2180"/>
<path class="lead" d="M2853,2180 V2256 H2914"/>
<path class="lead" d="M2906,2170 V2183 H3132 V2217"/>

<!-- ===== FOOTER ===== -->
<line x1="1683" y1="2420" x2="3072" y2="2420" stroke="#666" stroke-width="3"/>
<text class="src" x="1683" y="2472" textLength="446" lengthAdjust="spacingAndGlyphs">FUENTE: Dirección de Estudios SUBREI</text>
<text x="2919" y="2472" font-family="Liberation Sans, sans-serif" font-weight="bold" font-size="28" fill="#222" textLength="153" lengthAdjust="spacingAndGlyphs">LA TERCERA</text>
<rect x="3089" y="2368" width="104" height="104" fill="#e0232f"/>
<text x="3098" y="2458" font-family="Liberation Sans, sans-serif" font-weight="bold" font-size="110" fill="#fff" textLength="86" lengthAdjust="spacingAndGlyphs">LT</text>
</svg>
</body>
</html>
